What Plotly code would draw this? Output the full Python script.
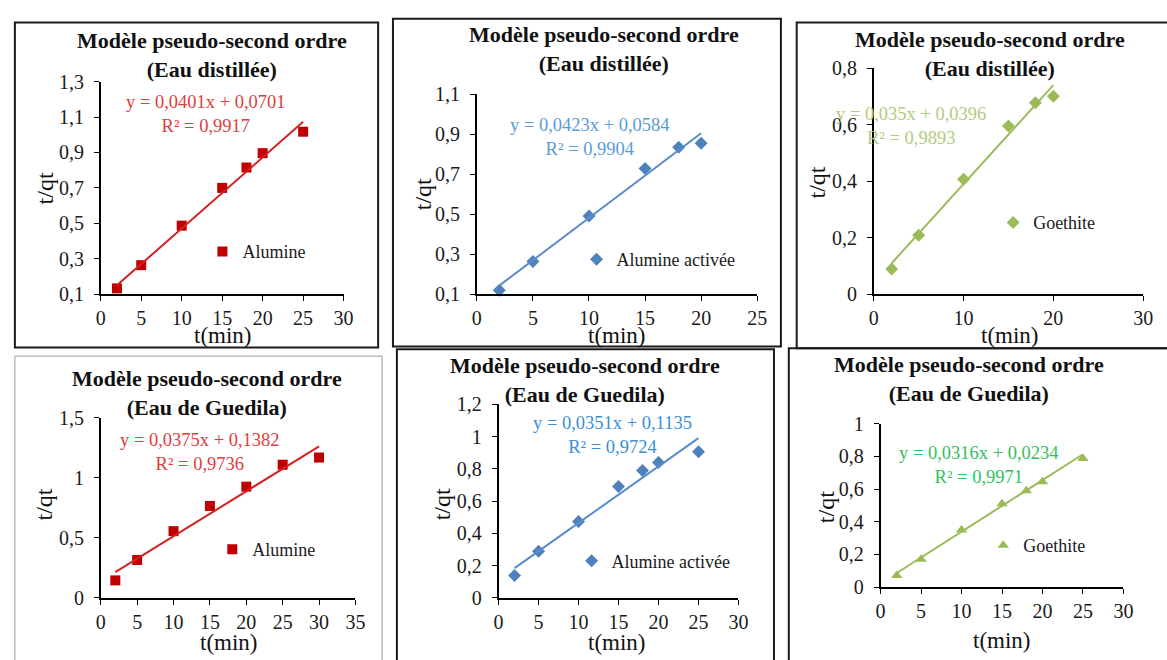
import plotly.graph_objects as go

W, H = 1167, 660
SERIF = "Liberation Serif"

# ---- measured series (t in min, t/qt) ----
t_dist_alu = [2, 5, 10, 15, 18, 20, 25]
q_dist_alu = [0.133, 0.264, 0.487, 0.700, 0.815, 0.896, 1.017]

t_dist_act = [2, 5, 10, 15, 18, 20]
q_dist_act = [0.120, 0.264, 0.491, 0.728, 0.834, 0.855]

t_dist_goe = [2, 5, 10, 15, 18, 20]
q_dist_goe = [0.089, 0.209, 0.407, 0.595, 0.677, 0.700]

t_gued_alu = [2, 5, 10, 15, 20, 25, 30]
q_gued_alu = [0.145, 0.315, 0.556, 0.766, 0.927, 1.110, 1.170]

t_gued_act = [2, 5, 10, 15, 18, 20, 25]
q_gued_act = [0.138, 0.288, 0.474, 0.690, 0.790, 0.840, 0.906]

t_gued_goe = [2, 5, 10, 15, 18, 20, 25]
q_gued_goe = [0.071, 0.170, 0.350, 0.510, 0.590, 0.645, 0.787]

# ---- linear fits (slope, intercept, R²) ----
slopes = [0.0401, 0.0423, 0.035, 0.0375, 0.0351, 0.0316]
intercepts = [0.0701, 0.0584, 0.0396, 0.1382, 0.1135, 0.0234]
r2_values = [0.9917, 0.9904, 0.9893, 0.9736, 0.9724, 0.9971]

# ---- labels ----
adsorbents = ["Alumine", "Alumine activée", "Goethite",
              "Alumine", "Alumine activée", "Goethite"]
waters = ["Eau distillée", "Eau distillée", "Eau distillée",
          "Eau de Guedila", "Eau de Guedila", "Eau de Guedila"]

# ---- axis ticks ----
x_ticks = [[0, 5, 10, 15, 20, 25, 30], [0, 5, 10, 15, 20, 25], [0, 10, 20, 30],
           [0, 5, 10, 15, 20, 25, 30, 35], [0, 5, 10, 15, 20, 25, 30],
           [0, 5, 10, 15, 20, 25, 30]]
y_ticks = [[0.1, 0.3, 0.5, 0.7, 0.9, 1.1, 1.3], [0.1, 0.3, 0.5, 0.7, 0.9, 1.1],
           [0, 0.2, 0.4, 0.6, 0.8], [0, 0.5, 1, 1.5],
           [0, 0.2, 0.4, 0.6, 0.8, 1, 1.2], [0, 0.2, 0.4, 0.6, 0.8, 1]]
y_ticktext = [["0,1", "0,3", "0,5", "0,7", "0,9", "1,1", "1,3"],
              ["0,1", "0,3", "0,5", "0,7", "0,9", "1,1"],
              ["0", "0,2", "0,4", "0,6", "0,8"],
              ["0", "0,5", "1", "1,5"],
              ["0", "0,2", "0,4", "0,6", "0,8", "1", "1,2"],
              ["0", "0,2", "0,4", "0,6", "0,8", "1"]]

series_t = [t_dist_alu, t_dist_act, t_dist_goe, t_gued_alu, t_gued_act, t_gued_goe]
series_q = [q_dist_alu, q_dist_act, q_dist_goe, q_gued_alu, q_gued_act, q_gued_goe]


def px(x):
    return x / W


def py(y):
    return 1 - y / H


# ---- per-panel geometry and styling (pixel units) ----
panels = [
    dict(xd=(97, 343), yd=(73, 293), xr=(0, 30), yr=(0.1, 1.3),
         frame=(10, 12, 378, 348), fcol="#1a1a1a", fw=2,
         title=(210, 45.5), eq=(204, 107), ylab=(40, 183), xlab=(221, 336),
         leg=(240, 249), sym="square", mcol="#C00000", lcol="#D42020", tcol="#E03C3C"),
    dict(xd=(478, 762), yd=(86, 293), xr=(0, 25), yr=(0.1, 1.1),
         frame=(393, 8, 786, 347), fcol="#1a1a1a", fw=2,
         title=(607, 39.5), eq=(593, 130.5), ylab=(423, 190), xlab=(620, 336),
         leg=(619, 257), sym="diamond", mcol="#4F81BD", lcol="#5A8CCB", tcol="#5B9BD5"),
    dict(xd=(880, 1153), yd=(59, 293), xr=(0, 30), yr=(0, 0.8),
         frame=(802, 12, 1180, 349), fcol="#1a1a1a", fw=2,
         title=(998, 44.5), eq=(918, 118.5), ylab=(823, 177), xlab=(1018, 336),
         leg=(1041, 219), sym="diamond", mcol="#9BBB59", lcol="#9BBB59", tcol="#B3CB7C"),
    dict(xd=(97, 355), yd=(421, 607), xr=(0, 35), yr=(0, 1.5),
         frame=(10, 357, 382, 680), fcol="#9a9a9a", fw=1,
         title=(205, 395), eq=(198, 456.5), ylab=(40, 510), xlab=(227, 653),
         leg=(250, 557), sym="square", mcol="#C00000", lcol="#D42020", tcol="#E03C3C"),
    dict(xd=(500, 743), yd=(407, 607), xr=(0, 30), yr=(0, 1.2),
         frame=(397, 350, 779, 680), fcol="#1a1a1a", fw=2,
         title=(588, 381.5), eq=(615, 439), ylab=(443, 510), xlab=(620, 653),
         leg=(614, 569), sym="diamond", mcol="#4F81BD", lcol="#5A8CCB", tcol="#3A8FD6"),
    dict(xd=(887, 1133), yd=(427, 596), xr=(0, 30), yr=(0, 1),
         frame=(794, 349, 1180, 680), fcol="#1a1a1a", fw=2,
         title=(977, 381), eq=(987, 470), ylab=(832, 513), xlab=(1010, 651),
         leg=(1031, 553), sym="triangle-up", mcol="#9BBB59", lcol="#9BBB59", tcol="#33C060"),
]

fig = go.Figure()
layout = dict(width=W, height=H, margin=dict(l=0, r=0, t=0, b=0),
              paper_bgcolor="white", plot_bgcolor="white",
              showlegend=True, shapes=[], annotations=[])


def num(v):
    return str(v).replace(".", ",")


for i, p in enumerate(panels):
    k = i + 1
    xa = "x" if k == 1 else f"x{k}"
    ya = "y" if k == 1 else f"y{k}"
    leg = "legend" if k == 1 else f"legend{k}"
    t, q = series_t[i], series_q[i]

    # measured points
    fig.add_trace(go.Scatter(
        x=t, y=q, mode="markers", name=adsorbents[i], xaxis=xa, yaxis=ya,
        legend=leg, cliponaxis=False,
        marker=dict(symbol=p["sym"], size=10,
                    color=p["mcol"], line=dict(width=0))))

    # fitted line over the measured range
    x_fit = [min(t), max(t)]
    y_fit = [slopes[i] * x + intercepts[i] for x in x_fit]
    fig.add_trace(go.Scatter(
        x=x_fit, y=y_fit, mode="lines", showlegend=False, xaxis=xa, yaxis=ya,
        line=dict(color=p["lcol"], width=2), cliponaxis=False))

    axis_common = dict(showline=True, linecolor="black", linewidth=1.5,
                       ticks="outside", ticklen=5, tickcolor="black", tickwidth=1.2,
                       showgrid=False, zeroline=False,
                       tickfont=dict(family=SERIF, size=20, color="#1a1a1a"))
    layout["xaxis" if k == 1 else f"xaxis{k}"] = dict(
        axis_common, domain=[px(p["xd"][0]), px(p["xd"][1])], range=list(p["xr"]),
        anchor=ya, tickvals=x_ticks[i], ticktext=[str(v) for v in x_ticks[i]])
    layout["yaxis" if k == 1 else f"yaxis{k}"] = dict(
        axis_common, domain=[py(p["yd"][1]), py(p["yd"][0])], range=list(p["yr"]),
        anchor=xa, tickvals=y_ticks[i], ticktext=y_ticktext[i],
        ticklabelstandoff=6)

    layout[leg] = dict(x=px(p["leg"][0] - 40), y=py(p["leg"][1]),
                       xanchor="left", yanchor="middle", bgcolor="rgba(0,0,0,0)",
                       borderwidth=0, font=dict(family=SERIF, size=18, color="#1a1a1a"))

    fx0, fy0, fx1, fy1 = p["frame"]
    layout["shapes"].append(dict(type="rect", xref="paper", yref="paper",
                                 x0=px(fx0), x1=px(fx1), y0=py(fy1), y1=py(fy0),
                                 line=dict(color=p["fcol"], width=p["fw"]),
                                 fillcolor="rgba(0,0,0,0)", layer="below"))

    layout["annotations"] += [
        dict(text=f"<b>Modèle pseudo-second ordre<br>({waters[i]})</b>",
             x=px(p["title"][0]), y=py(p["title"][1]), xref="paper", yref="paper",
             showarrow=False, xanchor="center", yanchor="middle", align="center",
             font=dict(family=SERIF, size=22, color="#111")),
        dict(text=f"y = {num(slopes[i])}x + {num(intercepts[i])}<br>R² = {num(r2_values[i])}",
             x=px(p["eq"][0]), y=py(p["eq"][1]), xref="paper", yref="paper",
             showarrow=False, xanchor="center", yanchor="middle", align="center",
             font=dict(family=SERIF, size=18.5, color=p["tcol"])),
        dict(text="t/qt", textangle=-90, x=px(p["ylab"][0]), y=py(p["ylab"][1]),
             xref="paper", yref="paper", showarrow=False,
             xanchor="center", yanchor="middle",
             font=dict(family=SERIF, size=24, color="#111")),
        dict(text="t(min)", x=px(p["xlab"][0]), y=py(p["xlab"][1]),
             xref="paper", yref="paper", showarrow=False,
             xanchor="center", yanchor="middle",
             font=dict(family=SERIF, size=23, color="#111")),
    ]

fig.update_layout(**layout)
fig.write_html("out.html")
